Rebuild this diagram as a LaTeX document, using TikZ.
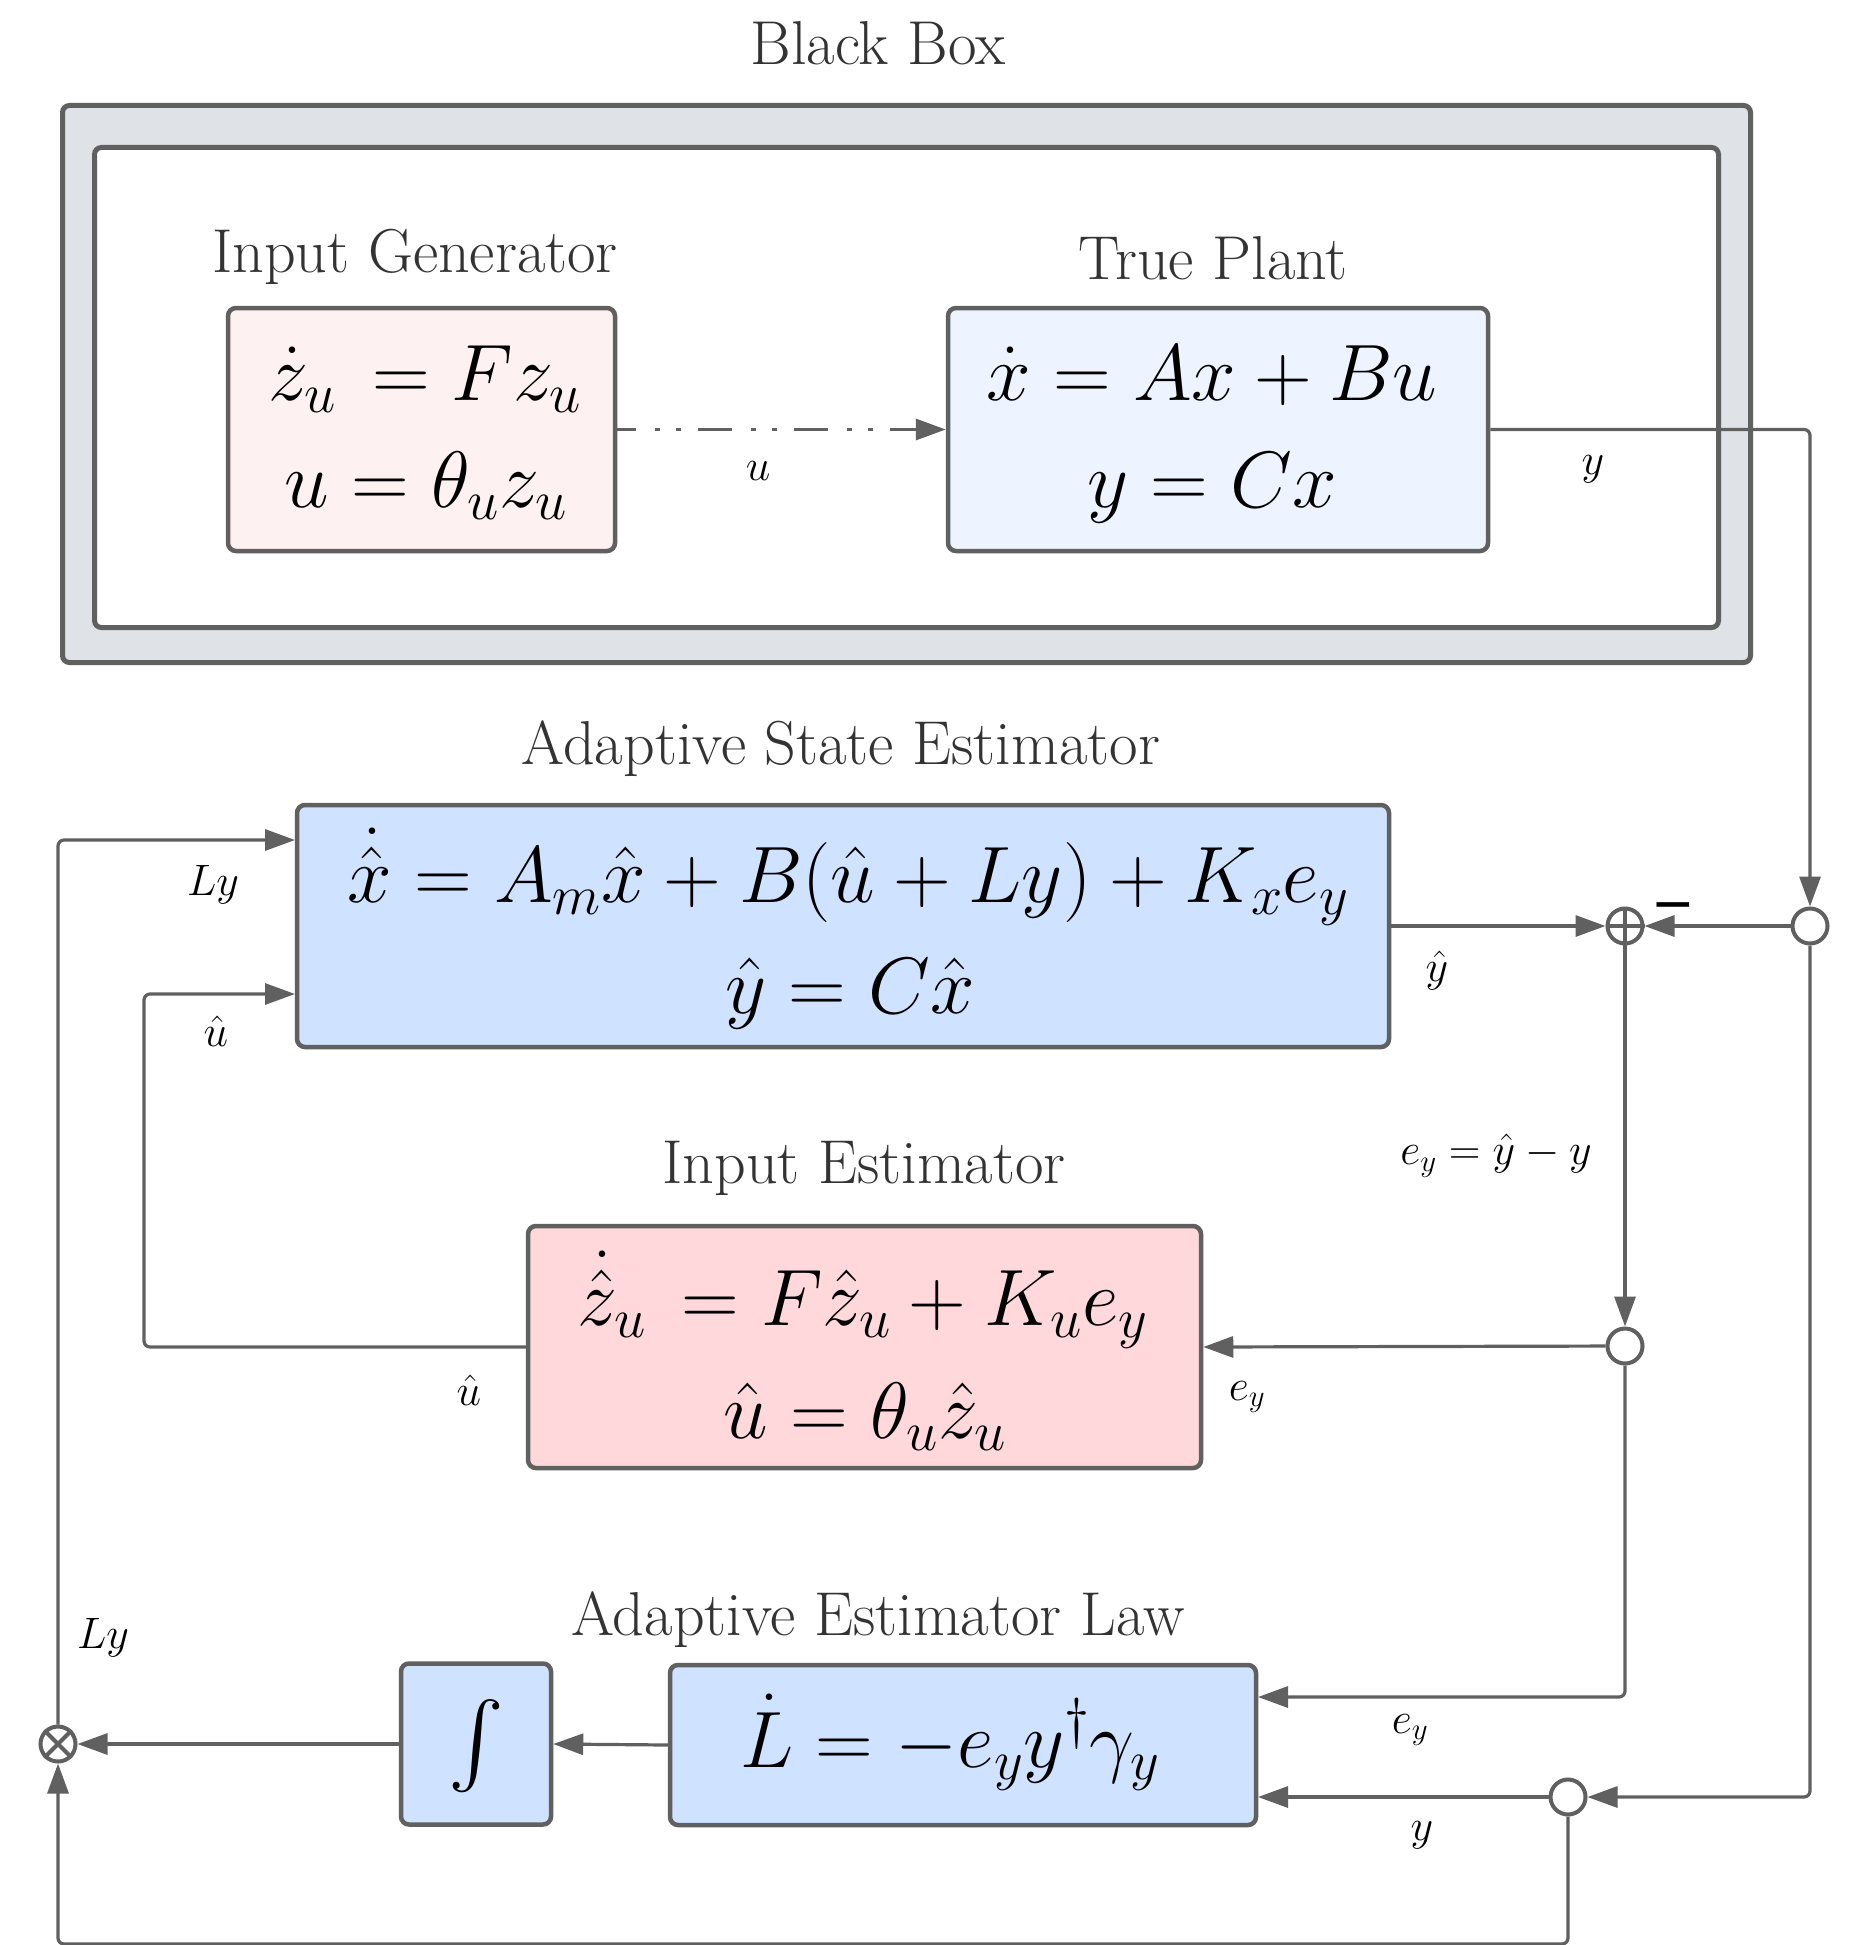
\RequirePackage{fix-cm}
\documentclass[tikz,border=0pt]{standalone}
\usepackage{fontspec}
\usepackage{amsmath}
\usepackage{graphicx}
\usetikzlibrary{arrows.meta}
\newfontfamily\djvfont{DejaVu Sans}
\definecolor{lngray}{RGB}{96,96,96}
\definecolor{ttlgray}{RGB}{51,51,51}
\definecolor{bbfill}{RGB}{223,226,230}
\definecolor{igfill}{RGB}{254,241,241}
\definecolor{tpfill}{RGB}{237,244,255}
\definecolor{bluefill}{RGB}{207,226,255}
\definecolor{iefill}{RGB}{254,216,219}
\newcommand{\ttlfont}{\fontsize{62}{74}\selectfont}
\newcommand{\eqfont}{\fontsize{80}{96}\selectfont}
\newcommand{\labfont}{\fontsize{44}{52}\selectfont}
\newcommand{\minusfont}{\djvfont\bfseries\fontsize{40}{48}\selectfont}
\begin{document}
\begin{tikzpicture}[x=1pt,y=-1pt,
  conn/.style={draw=lngray, line width=3.2pt, rounded corners=6pt, -{Triangle[length=30pt,width=21pt]}},
  blk/.style={draw=lngray, line width=4.5pt, rounded corners=8pt, inner sep=0pt},
  bbx/.style={draw=lngray, line width=5pt, rounded corners=7pt, inner sep=0pt},
  ttl/.style={text=ttlgray, font=\ttlfont, anchor=base, inner sep=0pt},
  eqn/.style={font=\eqfont, anchor=base, inner sep=0pt},
  lab/.style={font=\labfont, inner sep=0pt},
  junc/.style={circle, draw=lngray, line width=4pt, fill=white, minimum size=35pt, inner sep=0pt},
]
\useasboundingbox (0,0) rectangle (1850,1945);
\fill[white] (0,0) rectangle (1850,1945);

% Black box container
\node[bbx, fill=bbfill, minimum width=1688pt, minimum height=557pt] (bbouter) at (906.5,384) {};
\node[bbx, fill=white, minimum width=1624pt, minimum height=480pt] (bbinner) at (906.5,387.5) {};
\node[ttl] (tbb) at (878,65) {Black Box};

% Input generator and true plant
\node[ttl] (tig) at (415,272) {Input Generator};
\node[blk, fill=igfill, minimum width=387pt, minimum height=243pt] (ig) at (421.5,429.5) {};
\node[eqn] (ig1) at (425,400) {$\dot z_u \,= F z_u$};
\node[eqn] (ig2) at (426,507) {$u = \theta_u z_u$};

\node[ttl] (ttp) at (1213,279) {True Plant};
\node[blk, fill=tpfill, minimum width=540pt, minimum height=243pt] (tp) at (1218,429.5) {};
\node[eqn] (tp1) at (1212,400) {$\dot x = Ax + Bu$};
\node[eqn] (tp2) at (1212,507) {$y = Cx$};

% Adaptive state estimator
\node[ttl] (tase) at (841,764) {Adaptive State Estimator};
\node[blk, fill=bluefill, minimum width=1092pt, minimum height=242pt] (ase) at (843,926) {};
\node[eqn] (ase1) at (848,902) {$\dot{\hat x} = A_m\hat x + B(\hat u + Ly) + K_x e_y$};
\node[eqn] (ase2) at (850,1013) {$\hat y = C\hat x$};

% Input estimator
\node[ttl] (tie) at (864,1183) {Input Estimator};
\node[blk, fill=iefill, minimum width=673pt, minimum height=242pt] (ie) at (864.5,1347) {};
\node[eqn] (ie1) at (863,1325) {$\dot{\hat z}_u \,= F\hat z_u + K_u e_y$};
\node[eqn] (ie2) at (865,1438) {$\hat u = \theta_u\hat z_u$};

% Adaptive estimator law
\node[ttl] (tael) at (878,1635) {Adaptive Estimator Law};
\node[blk, fill=bluefill, minimum width=586pt, minimum height=160pt] (ael) at (963,1745) {};
\node[eqn] (ael1) at (950,1767) {$\dot L = -e_y y^\dagger\gamma_y$};
\node[blk, fill=bluefill, minimum width=150pt, minimum height=161pt] (intb) at (476,1744) {};
\node[inner sep=0pt] (intsym) at (476,1746) {\scalebox{8.4}{$\int$}};

% Junctions
\node[junc] (sum) at (1625,926) {};
\draw[lngray, line width=4pt] (sum.north) -- (sum.south) (sum.west) -- (sum.east);
\node[junc] (o1) at (1810,926) {};
\node[junc] (o2) at (1625,1346) {};
\node[junc] (o3) at (1568,1797) {};
\node[junc] (mul) at (58,1744) {};
\draw[lngray, line width=4pt] (mul.north west) -- (mul.south east) (mul.north east) -- (mul.south west);

% Helper coordinates
\coordinate (uhx) at (144,994);
\coordinate (uhin) at (295,994);
\coordinate (lyx) at (58,840);
\coordinate (lyin) at (295,840);
\coordinate (eyin) at (1258,1697);
\coordinate (yin) at (1258,1797);
\coordinate (botl) at (58,1944);

% Connectors
\draw[conn, dash pattern=on 34pt off 19pt on 5pt off 16pt on 5pt off 17pt, dash phase=15pt] (ig) -- (tp);
\draw[conn] (tp.east) -| (o1);
\draw[conn] (ase.east) -- (sum);
\draw[conn] (o1) -- (sum);
\draw[conn] (sum) -- (o2);
\draw[conn] (o2) -- (ie.east);
\draw[conn] (ie.west) -| (uhx) -- (uhin);
\draw[conn] (mul) -- (lyx) -- (lyin);
\draw[conn] (intb.west) -- (mul);
\draw[conn] (ael.west) -- (intb.east);
\draw[conn] (o2) |- (eyin);
\draw[conn] (o1) |- (o3);
\draw[conn] (o3) -- (yin);
\draw[conn] (o3) |- (botl) -- (mul);

% Labels
\node[lab] (lu) at (758,471) {$u$};
\node[lab] (ly1) at (1593,469) {$y$};
\node[lab] (lLy1) at (213,885) {$Ly$};
\node[lab] (luh1) at (216,1031) {$\hat u$};
\node[lab] (lyh) at (1437,970) {$\hat y$};
\node[lab, font=\minusfont] (lminus) at (1673,910) {\scalebox{1.3}[1]{−}};
\node[lab] (ley) at (1496,1156) {$e_y = \hat y - y$};
\node[lab] (ley2) at (1247,1397) {$e_y$};
\node[lab] (luh2) at (469,1390) {$\hat u$};
\node[lab] (lLy2) at (103,1638) {$Ly$};
\node[lab] (ley3) at (1410,1730) {$e_y$};
\node[lab] (ly2) at (1422,1835) {$y$};
\end{tikzpicture}
\end{document}
